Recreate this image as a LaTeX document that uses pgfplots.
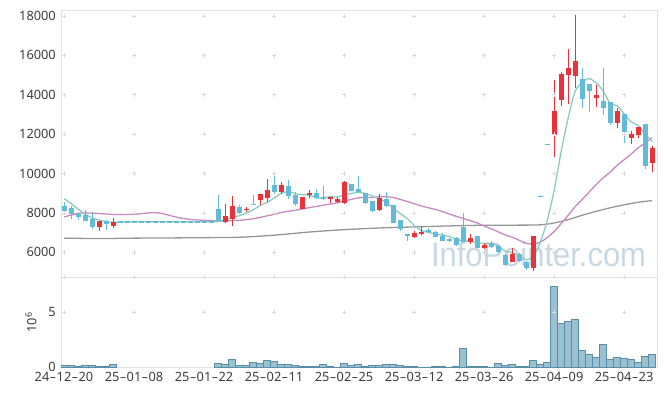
\documentclass[border=0pt]{standalone}
\usepackage{fontspec}
\setmainfont{Noto Sans}
\newfontfamily\wmfont{Liberation Sans}
\usepackage{graphicx}
\usepackage{pgfplots}
\pgfplotsset{compat=1.18}
\usepackage{pgfplotstable}

\definecolor{upred}{RGB}{232,51,58}
\definecolor{dnblue}{RGB}{98,188,217}
\definecolor{maF}{RGB}{140,204,190}
\definecolor{maM}{RGB}{200,138,192}
\definecolor{maS}{RGB}{150,150,150}
\definecolor{volfill}{RGB}{153,193,210}
\definecolor{voledge}{RGB}{90,142,168}
\definecolor{framec}{RGB}{226,226,226}
\definecolor{gridc}{RGB}{218,218,218}
\definecolor{lab}{RGB}{60,60,60}
\definecolor{wm}{RGB}{200,216,227}

\newcommand{\h}{\makebox[0.57em]{\scalebox{1.6}[1]{-}}}

\pgfplotstableread{
x o h l c
5 7293 7579 7090 7579
7 7326 7764 7242 7560
23 7545 8439 7495 7833
24 7690 8850 7350 8338
26 8136 8303 8050 8222
28 8641 8960 8410 8944
29 8740 9740 8555 9146
31 9060 9580 8955 9399
34 8212 8820 8212 8805
35 8897 9150 8770 8995
38 8757 8825 8505 8808
39 8540 8825 8515 8700
40 8490 9625 8440 9558
45 8136 8980 8100 8742
50 6788 7100 6748 6990
51 6916 7278 6874 7040
58 6528 6935 6404 6730
60 6218 6470 6174 6367
64 5520 6240 5490 5910
67 5220 6823 5040 6823
70 11957 14750 10825 13176
71 13734 15172 13430 15055
72 15004 16309 13515 15360
73 14968 18050 14328 15715
76 13850 14495 13395 13988
79 12584 13346 12297 13176
81 11820 12178 11500 11990
82 11957 12380 11790 12348
84 10550 11414 10063 11282
}\redc

\pgfplotstableread{
x o h l c
0 8337 8556 7966 8101
1 8270 8354 7680 7966
2 7966 8000 7630 7798
3 7880 8168 7596 7596
4 7714 8050 7190 7293
6 7596 7663 7124 7461
8 7550 7550 7550 7550
9 7550 7550 7550 7550
10 7550 7550 7550 7550
11 7550 7550 7550 7550
12 7550 7550 7550 7550
13 7550 7550 7550 7550
14 7550 7550 7550 7550
15 7550 7550 7550 7550
16 7550 7550 7550 7550
17 7550 7550 7550 7550
18 7550 7550 7550 7550
19 7550 7550 7550 7550
20 7550 7550 7550 7550
21 7550 7550 7550 7550
22 8205 8894 7600 7600
25 8288 8389 7950 8000
27 8474 8929 8380 8424
30 9399 10030 8955 9060
32 9348 9695 8690 8858
33 8894 9060 8370 8474
36 9035 9190 8727 8767
37 8800 9356 8676 8750
41 9492 9492 9136 9136
42 9190 9853 9005 9052
43 8995 9010 8457 8525
44 8590 8590 8042 8121
46 8685 9060 8313 8345
47 8389 8389 7465 7505
48 7630 7630 7082 7202
49 6916 6916 6600 6858
52 7150 7231 6960 7010
53 7010 7093 6758 6788
54 6850 6960 6570 6586
55 6657 6749 6505 6606
56 6739 6757 6334 6370
57 7293 8010 6505 6536
59 6805 6839 6216 6243
61 6470 6550 6226 6251
62 6340 6378 5958 6000
63 5878 5905 5325 5372
65 5940 5970 5495 5535
66 5500 5550 5080 5220
68 8840 8840 8840 8840
69 11484 11484 11484 11484
74 14800 15344 13345 13770
75 14547 14547 13110 14208
77 13684 15375 12973 13313
78 13617 13617 12465 12551
80 13008 13008 11535 12125
83 12516 12516 10231 10400
}\bluec

\pgfplotstableread{
x y
0 8724
1 8480
2 8200
3 7950
4 7751
5 7646
6 7560
7 7530
8 7530
9 7540
10 7550
21 7550
22 7560
23 7613
24 7770
25 7857
26 7988
27 8152
28 8375
29 8536
30 8752
31 8991
32 9082
33 8988
34 8919
35 8908
36 8780
37 8760
38 8826
39 8805
40 8913
41 8987
42 9044
43 8988
44 8873
45 8709
46 8551
47 8241
48 7975
49 7722
50 7375
51 7115
52 7018
53 6937
54 6883
55 6806
56 6672
57 6577
58 6564
59 6493
60 6452
61 6428
62 6331
63 6059
64 5994
65 5834
66 5618
67 5773
68 6475
69 7599
70 9124
71 11091
72 12798
73 14167
74 14615
75 14822
76 14608
77 14199
78 13566
79 13447
80 13031
81 12631
82 12438
83 12008
84 11629
}\maFt

\pgfplotstableread{
x y
0 7800
1 7890
2 7980
3 8000
4 7990
5 7970
6 7945
7 7925
8 7915
9 7920
10 7930
11 7960
12 8000
13 8015
14 7975
15 7880
16 7790
17 7720
18 7675
19 7645
20 7625
21 7610
22 7600
23 7598
24 7610
25 7625
26 7659
27 7702
28 7772
29 7852
30 7927
31 8020
32 8085
33 8131
34 8194
35 8267
36 8327
37 8388
38 8450
39 8508
40 8608
41 8686
42 8760
43 8794
44 8783
45 8820
46 8827
47 8782
48 8694
49 8580
50 8476
51 8358
52 8266
53 8182
54 8071
55 7951
56 7831
57 7720
58 7616
59 7493
60 7335
61 7194
62 7044
63 6886
64 6776
65 6617
66 6461
67 6427
68 6511
69 6745
70 7054
71 7455
72 7872
73 8319
74 8678
75 9058
76 9439
77 9778
78 10069
79 10416
80 10703
81 10987
82 11302
83 11554
84 11823
}\maMt

\pgfplotstableread{
x y
0 6720
5 6700
10 6720
15 6730
20 6745
25 6765
30 6870
35 7030
40 7150
45 7235
50 7290
55 7340
60 7375
65 7380
68 7395
70 7490
72 7660
74 7880
76 8080
78 8260
80 8410
82 8540
84 8626
}\maSt

\pgfplotstableread{
x v
0 0.18
1 0.18
2 0.09
3 0.18
4 0.18
5 0.09
6 0.09
7 0.27
22 0.36
23 0.27
24 0.73
25 0.18
26 0.18
27 0.45
28 0.36
29 0.64
30 0.55
31 0.27
32 0.27
33 0.18
34 0.09
35 0.09
36 0.09
37 0.27
38 0.09
39 0.04
40 0.36
41 0.18
42 0.27
43 0.09
44 0.18
45 0.18
46 0.27
47 0.27
48 0.18
49 0.09
50 0.09
51 0.02
52 0.02
53 0.09
54 0.09
55 0.02
56 0.09
57 1.73
58 0.09
59 0.09
60 0.09
61 0.03
62 0.36
63 0.18
64 0.27
65 0.09
66 0.09
67 0.64
68 0.27
69 0.45
70 7.38
71 4.02
72 4.19
73 4.37
74 1.55
75 1.18
76 0.91
77 2.09
78 0.73
79 0.91
80 0.84
81 0.73
82 0.45
83 1.00
84 1.18
}\volt

\pgfplotsset{
  base/.style={
    scale only axis, width=596pt,
    xmin=-0.43, xmax=84.7,
    axis line style={draw=framec, line width=0.8pt},
    major tick length=0pt, tick style={draw=none},
    tick label style={font=\fontsize{12.8}{14}\selectfont, text=lab},
    /pgf/number format/assume math mode=true,
    /pgf/number format/1000 sep={},
    scaled y ticks=false, scaled x ticks=false,
    xtick={0,10,...,80},
  },
  cand/.style={only marks, mark=*, mark size=0pt, mark options={draw=none, fill=none}, forget plot,
    error bars/.cd, y dir=both, y explicit, error mark=none},
}

\begin{document}
\begin{tikzpicture}
\useasboundingbox (0,0) rectangle (665pt,396pt);
\node[anchor=base, text=wm, inner sep=0pt, font=\wmfont\fontsize{34}{34}\selectfont] at (538.5pt,129.3pt) {\scalebox{0.91}[1]{InfoPointer.com}};

\begin{axis}[base,
  at={(61pt,118.7pt)}, anchor=south west,
  height=267.3pt,
  ymin=4732, ymax=18304,
  ytick={6000,8000,...,18000},
  xticklabels={},
  yticklabel style={anchor=east, inner sep=0pt, xshift=-5pt},
]
\pgfplotsinvokeforeach{0,10,...,80}{
  \addplot[only marks, mark=+, mark size=2.2pt, gridc, mark options={line width=0.6pt}, forget plot]
    coordinates {(#1,6000)(#1,8000)(#1,10000)(#1,12000)(#1,14000)(#1,16000)(#1,18000)};
}
\addplot[maS, line width=1.3pt, smooth, forget plot] table[x=x,y=y] {\maSt};
\addplot[maM, line width=1.3pt, smooth, forget plot] table[x=x,y=y] {\maMt};
\addplot[maF, line width=1.3pt, smooth, forget plot] table[x=x,y=y] {\maFt};

\addplot[cand, error bar style={dnblue, line width=1pt}]
  table[x=x, y expr={(\thisrow{h}+\thisrow{l})/2}, y error expr={(\thisrow{h}-\thisrow{l})/2}] {\bluec};
\addplot[cand, error bar style={dnblue, line width=5pt}]
  table[x=x, y expr={(\thisrow{o}+\thisrow{c})/2}, y error expr={max(abs(\thisrow{o}-\thisrow{c})/2,26)}] {\bluec};
\addplot[cand, error bar style={upred, line width=1pt}]
  table[x=x, y expr={(\thisrow{h}+\thisrow{l})/2}, y error expr={(\thisrow{h}-\thisrow{l})/2}] {\redc};
\addplot[cand, error bar style={upred, line width=5pt}]
  table[x=x, y expr={(\thisrow{o}+\thisrow{c})/2}, y error expr={max(abs(\thisrow{o}-\thisrow{c})/2,26)}] {\redc};
\end{axis}

\begin{axis}[base,
  at={(61pt,28.7pt)}, anchor=south west,
  height=90pt,
  ymin=0, ymax=8.18,
  ytick={0,5},
  xticklabels={24\h12\h20,25\h01\h08,25\h01\h22,25\h02\h11,25\h02\h25,25\h03\h12,25\h03\h26,25\h04\h09,25\h04\h23},
  xticklabel style={anchor=north, inner sep=0pt, yshift=-5pt},
  yticklabel style={anchor=east, inner sep=0pt, xshift=-5pt},
  ylabel={10\textsuperscript{6}},
  every axis y label/.style={at={(axis description cs:-0.0408,0.5)}, rotate=90, anchor=south, inner sep=0pt, font=\fontsize{12.8}{14}\selectfont, text=lab},
]
\pgfplotsinvokeforeach{0,10,...,80}{
  \addplot[only marks, mark=+, mark size=2.2pt, gridc, mark options={line width=0.6pt}, forget plot]
    coordinates {(#1,5)(#1,8.18)};
}
\addplot[ybar, bar width=1, fill=volfill, draw=voledge, line width=0.6pt] table[x=x,y=v] {\volt};
\end{axis}
\end{tikzpicture}
\end{document}
